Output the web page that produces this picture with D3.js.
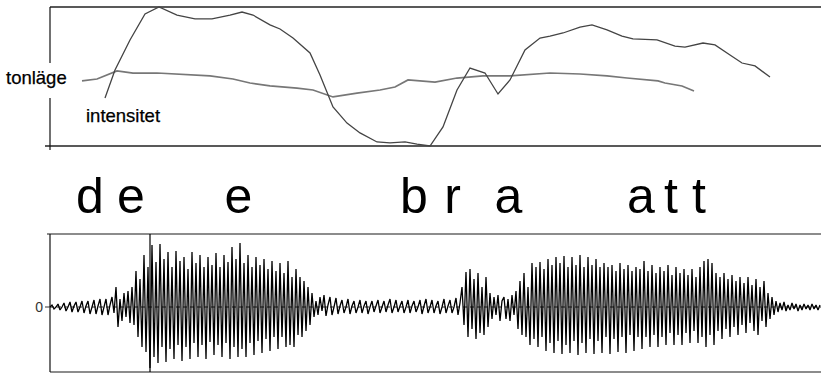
<!DOCTYPE html>
<html>
<head>
<meta charset="utf-8">
<script src="https://cdn.jsdelivr.net/npm/d3@7"></script>
<style>
  html, body { margin: 0; padding: 0; background: #fff; }
  svg { display: block; }
</style>
</head>
<body>
<div id="chart"></div>
<script>
// ---------- DATA (time in ms, values in relative units) ----------
const timeDomain = [0, 771];

// intensity contour (relative 0..100)
const intensityTime  = [55,65,80,95,109,127,145,162,180,192,203,220,230,243,260,270,283,297,310,327,340,355,367,380,393,407,420,435,448,460,475,490,500,513,530,542,557,572,583,607,625,635,653,665,680,692,705,720];
const intensityValue = [34.5,54.7,76.3,95.0,100,94.2,91.4,91.4,94.2,96.4,94.2,87.1,84.2,77.7,66.9,51.1,28.1,16.5,9.4,2.9,2.2,2.9,1.4,0,13.7,40.3,56.1,52.5,37.4,47.5,69.1,77.7,79.1,81.3,85.6,87.1,83.5,79.1,77.0,76.3,71.9,71.2,74.1,72.7,65.5,59.7,57.6,49.6];

// pitch contour "tonläge" (relative 0..100)
const pitchTime  = [32,47,67,83,107,160,183,200,220,247,263,283,307,330,345,358,385,407,433,460,500,530,557,577,608,615,632,644];
const pitchValue = [46.8,48.2,54.0,52.5,52.5,50.4,48.2,45.3,43.2,41.7,40.3,35.3,38.1,40.3,42.4,47.5,46.0,48.9,50.4,50.4,52.5,51.8,50.4,48.9,46.8,45.3,43.2,39.6];

// segment labels
const segLabels = ["d","e","e","b","r","a","a","t","t"];
const segTimes  = [40,81,188.5,364,402.5,458.5,591,621,649];

// waveform (sample step 2 ms), split into segments with start times
const sampleStep = 2;
const waveStarts = [0, 66, 86, 266, 412, 442, 468, 724];
const waveA = [0,2,-2,0,3,-3,0,4,-4,0,5,-5,1,5,-5,0,6,-6,1,6,-7,0,7,-7,1,8,-8,0,8,-8,2,10,-6];
const waveB = [20,-20,8,-14,14,-10,16,-16,20,-18];
const waveC = [36,-30,28,-40,52,-45,40,-61,62,-50,45,-56,63,-40,48,-55,55,-42,40,-52,56,-38,46,-54,50,-40,38,-52,55,-36,44,-50,52,-38,40,-52,50,-35,42,-48,54,-38,40,-50,52,-36,45,-52,60,-40,48,-50,64,-42,44,-50,52,-36,40,-48,50,-34,42,-46,48,-32,38,-44,46,-30,36,-42,44,-30,34,-40,46,-38,30,-40,38,-28,30,-30,26,-24,20,-18,14,-10];
const waveD = [6,-8,10,-4,12,-9,2,10,-8,0,9,-7,1,7,-6,0,8,-7,1,6,-6,0,7,-6,1,6,-7,0,6,-5,1,7,-6,0,6,-5,2,8,-6,0,7,-5,1,6,-6,0,7,-6,1,6,-5,0,7,-7,1,8,-6,0,7,-6,1,6,-7,0,8,-6,1,7,-6,0,9,-8,4];
const waveE = [20,-18,35,-30,38,-22,28,-32,34,-26,20,-28,30,-20,14];
const waveF = [-12,10,-8,12,-14,6,10,-12,8,-14,12,-8,16];
const waveG = [-22,26,-28,34,-30,20,-38,44,-32,40,-40,45,-30,38,-44,48,-36,42,-46,50,-34,44,-47,51,-38,40,-46,50,-34,42,-48,52,-36,40,-46,50,-32,42,-47,48,-34,40,-46,44,-30,40,-47,42,-32,36,-45,44,-30,38,-46,42,-28,36,-44,40,-30,38,-42,46,-30,36,-40,42,-28,34,-40,40,-30,36,-38,42,-26,32,-38,40,-28,34,-38,38,-26,32,-36,38,-24,30,-36,40,-30,46,-40,48,-28,44,-38,34,-24,30,-32,34,-22,28,-30,32,-20,26,-28,30,-18,24,-26,30,-16,22,-24,28,-28,20,-14,26,-20,14,-12,10];
const waveH = [-8,6,-5,4,-3,5,-4,2,-3,4,-2,3,-4,2,-3,3,-2,2,-3,3,-2,2,-3,2];
const waveSegments = [waveA, waveB, waveC, waveD, waveE, waveF, waveG, waveH];

// axis labels
const pitchLabel = "tonläge";
const intensityLabel = "intensitet";
const zeroLabel = "0";
const cursorTime = 100;

// ---------- DRAWING ----------
const W = 821, H = 373;
const svg = d3.select("#chart").append("svg").attr("width", W).attr("height", H);

const x = d3.scaleLinear().domain(timeDomain).range([50, 821]);
const yTop = d3.scaleLinear().domain([0, 100]).range([146, 7]);
const yWave = d3.scaleLinear().domain([-65, 73]).range([372, 234]);

const font = "'Liberation Sans', Arial, sans-serif";

// --- top panel frame ---
const topG = svg.append("g");
topG.append("line")
  .attr("x1", x(timeDomain[0])).attr("x2", x(timeDomain[1]))
  .attr("y1", yTop(100)).attr("y2", yTop(100))
  .attr("stroke", "#222").attr("stroke-width", 1.4);
topG.append("line")
  .attr("x1", x(timeDomain[0]) - 5).attr("x2", x(timeDomain[1]))
  .attr("y1", yTop(0)).attr("y2", yTop(0))
  .attr("stroke", "#222").attr("stroke-width", 1.4);
topG.append("line")
  .attr("x1", x(timeDomain[0])).attr("x2", x(timeDomain[0]))
  .attr("y1", yTop(100)).attr("y2", yTop(0) + 4)
  .attr("stroke", "#111").attr("stroke-width", 1.2);

// white gap behind label
topG.append("rect").attr("x", 0).attr("y", 63).attr("width", 72).attr("height", 35).attr("fill", "#fff");

topG.append("text").attr("x", 6).attr("y", 84)
  .attr("font-family", font).attr("font-size", 18.5).attr("fill", "#000")
  .attr("stroke", "#000").attr("stroke-width", 0.25)
  .text(pitchLabel);
topG.append("text").attr("x", 86).attr("y", 122)
  .attr("font-family", font).attr("font-size", 18.5).attr("fill", "#000")
  .attr("stroke", "#000").attr("stroke-width", 0.25)
  .text(intensityLabel);

const lineTop = d3.line().x(d => x(d[0])).y(d => yTop(d[1]));
topG.append("path")
  .datum(pitchTime.map((t, i) => [t, pitchValue[i]]))
  .attr("d", lineTop).attr("fill", "none")
  .attr("stroke", "#777").attr("stroke-width", 1.7);
topG.append("path")
  .datum(intensityTime.map((t, i) => [t, intensityValue[i]]))
  .attr("d", lineTop).attr("fill", "none")
  .attr("stroke", "#444").attr("stroke-width", 1.3);

// --- segment letters ---
svg.append("g").selectAll("text")
  .data(segLabels.map((s, i) => ({ s, t: segTimes[i] })))
  .join("text")
  .attr("x", d => x(d.t)).attr("y", 213)
  .attr("text-anchor", "middle")
  .attr("font-family", font).attr("font-size", 50).attr("fill", "#000")
  .text(d => d.s);

// --- waveform panel ---
const botG = svg.append("g");
botG.append("line")
  .attr("x1", x(timeDomain[0]) - 3).attr("x2", x(timeDomain[1]))
  .attr("y1", yWave(73)).attr("y2", yWave(73))
  .attr("stroke", "#666").attr("stroke-width", 1.4);
botG.append("line")
  .attr("x1", x(timeDomain[0])).attr("x2", x(timeDomain[1]))
  .attr("y1", yWave(-65)).attr("y2", yWave(-65))
  .attr("stroke", "#666").attr("stroke-width", 1.4);
botG.append("line")
  .attr("x1", x(timeDomain[0])).attr("x2", x(timeDomain[0]))
  .attr("y1", yWave(73)).attr("y2", yWave(-65))
  .attr("stroke", "#111").attr("stroke-width", 1.2);
// zero tick + dashed zero line
botG.append("line")
  .attr("x1", x(timeDomain[0]) - 5).attr("x2", x(timeDomain[0]))
  .attr("y1", yWave(0)).attr("y2", yWave(0))
  .attr("stroke", "#333").attr("stroke-width", 1);
botG.append("line")
  .attr("x1", x(timeDomain[0])).attr("x2", x(timeDomain[1]))
  .attr("y1", yWave(0)).attr("y2", yWave(0))
  .attr("stroke", "#222").attr("stroke-width", 1).attr("stroke-dasharray", "4,3");
botG.append("text").attr("x", x(timeDomain[0]) - 7).attr("y", yWave(0) + 5)
  .attr("text-anchor", "end")
  .attr("font-family", font).attr("font-size", 14).attr("fill", "#333")
  .text(zeroLabel);

const wavePts = [];
waveSegments.forEach((seg, k) => {
  seg.forEach((v, j) => wavePts.push([waveStarts[k] + j * sampleStep, v]));
});
botG.append("path")
  .datum(wavePts)
  .attr("d", d3.line().x(d => x(d[0])).y(d => yWave(d[1])))
  .attr("fill", "none").attr("stroke", "#000").attr("stroke-width", 1.3)
  .attr("stroke-linejoin", "miter").attr("stroke-miterlimit", 2);

// cursor line
botG.append("line")
  .attr("x1", x(cursorTime)).attr("x2", x(cursorTime))
  .attr("y1", yWave(73)).attr("y2", yWave(-65))
  .attr("stroke", "#000").attr("stroke-width", 1.2);
</script>
</body>
</html>
